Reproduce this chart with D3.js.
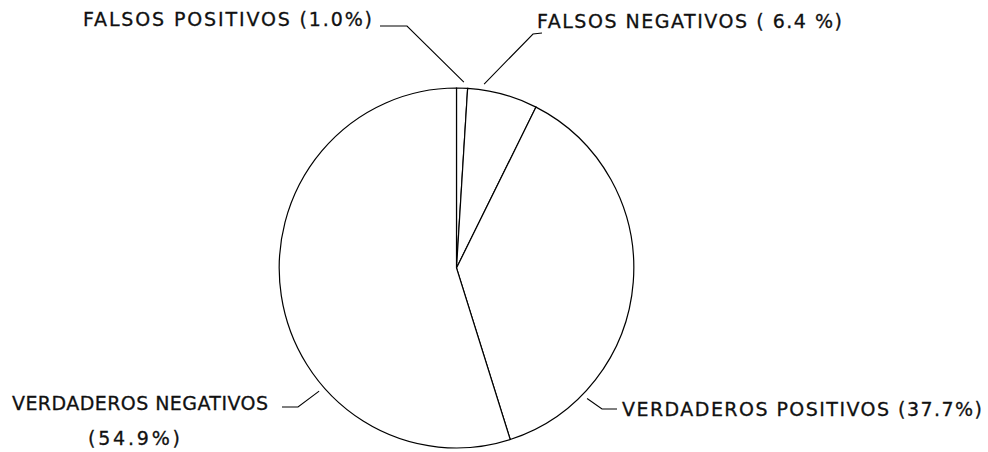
<!DOCTYPE html>
<html lang="es">
<head>
<meta charset="UTF-8">
<title>Pie chart - clasificacion</title>
<script src="https://d3js.org/d3.v7.min.js"></script>
<style>
  body { margin: 0; background: #fff; }
  svg { display: block; }
  .slice { fill: #fff; stroke: #000; stroke-width: 1.2px; }
  .label { font-family: "DejaVu Sans", sans-serif; font-size: 19px; fill: #111; stroke: #111; stroke-width: 0.3px; }
  .leader { fill: none; stroke: #000; stroke-width: 1.1px; }
</style>
</head>
<body>
<div id="chart"></div>
<script>
// data (clockwise from 12 o'clock)
const categories = ["FALSOS POSITIVOS", "FALSOS NEGATIVOS", "VERDADEROS POSITIVOS", "VERDADEROS NEGATIVOS"];
const values = [1.0, 6.4, 37.7, 54.9];

const width = 988, height = 452;
const cx = 456.5, cy = 268, radius = 180;

const svg = d3.select("#chart").append("svg")
    .attr("width", width)
    .attr("height", height);

const pie = d3.pie().sort(null).value(d => d);
const arcs = pie(values);
const arc = d3.arc().innerRadius(0).outerRadius(radius);

// slightly squashed horizontally like the original plot
const g = svg.append("g")
    .attr("transform", `translate(${cx},${cy}) scale(0.985,1)`);

g.selectAll(".slice")
    .data(arcs)
    .enter().append("path")
    .attr("class", "slice")
    .attr("vector-effect", "non-scaling-stroke")
    .attr("d", arc);

const fmt = d3.format(".1f");

// label layout: text anchor point, where the leader touches the pie (fraction through slice)
const layout = [
    { x: 83,  y: 26,  len: 289, lines: [categories[0] + " (" + fmt(values[0]) + "%)"], t: 0.64, elbow: [407, 26], start: [380, 26] },
    { x: 537, y: 28,  len: 305, lines: [categories[1] + " ( " + fmt(values[1]) + " %)"], t: 0.22, elbow: [533, 34], start: [542, 33] },
    { x: 622, y: 416, len: 360, lines: [categories[2] + " (" + fmt(values[2]) + "%)"], t: 0.795, elbow: [602, 409], start: [617, 409] },
    { x: 12,  y: 410, len: 256, lines: [categories[3], "(" + fmt(values[3]) + "%)"], t: 0.335, elbow: [298, 407], start: [282, 407] }
];

const pointOnPie = (a, r) => [cx + 0.985 * r * Math.sin(a), cy - r * Math.cos(a)];

layout.forEach((L, i) => {
    const d = arcs[i];
    const a = d.startAngle + L.t * (d.endAngle - d.startAngle);
    const p = pointOnPie(a, radius + 6);
    svg.append("path")
        .attr("class", "leader")
        .attr("d", d3.line()([L.start, L.elbow, p]));

    svg.append("text")
        .attr("class", "label")
        .attr("x", L.x)
        .attr("y", L.y)
        .attr("textLength", L.len)
        .attr("lengthAdjust", "spacing")
        .text(L.lines[0]);
    if (L.lines[1]) {
        svg.append("text")
            .attr("class", "label")
            .attr("x", 88)
            .attr("y", L.y + 35)
            .attr("textLength", 92)
            .attr("lengthAdjust", "spacing")
            .text(L.lines[1]);
    }
});
</script>
</body>
</html>
